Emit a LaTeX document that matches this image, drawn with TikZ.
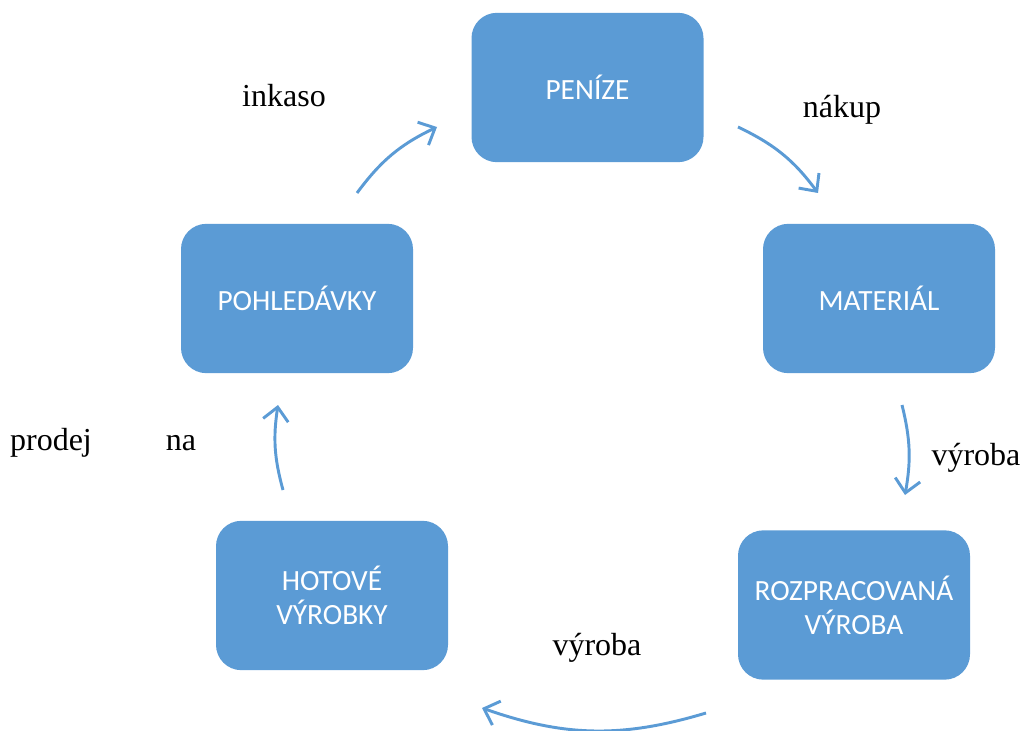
\documentclass[tikz,border=0pt]{standalone}
\usepackage{fontspec}
\setmainfont{Liberation Serif}
\newfontfamily\boxfont{Carlito}
\usetikzlibrary{arrows.meta}
\definecolor{boxblue}{HTML}{5B9BD5}
\begin{document}
\begin{tikzpicture}[x=0.75pt,y=-0.75pt,
  stage/.style={fill=boxblue, draw=none, rounded corners=19pt, minimum width=174pt, minimum height=112pt,
    text=white, align=center, font=\boxfont\fontsize{22}{25.5}\selectfont, inner sep=0pt},
  lbl/.style={font=\fontsize{24}{28}\selectfont, inner sep=0pt, anchor=base},
  flow/.style={draw=boxblue, line width=2.2pt, -{Straight Barb[length=10pt,width=19pt,line width=2.2pt]}, bend left=#1}
]
\useasboundingbox (0,0) rectangle (1022,731);
\node[stage] (penize) at (587.5,87.5) {PENÍZE};
\node[stage] (material) at (879,298.5) {MATERIÁL};
\node[stage] (rozprac) at (854,605) {ROZPRACOVANÁ\\VÝROBA};
\node[stage] (hotove) at (332,595.5) {HOTOVÉ\\VÝROBKY};
\node[stage] (pohled) at (297,298.5) {POHLEDÁVKY};

\node[lbl] (inkaso) at (284,107) {inkaso};
\node[lbl] (nakup) at (842,118) {nákup};
\node[lbl] (vyroba1) at (976,465) {výroba};
\node[lbl] (vyroba2) at (597,655) {výroba};
\node[lbl] (prodej) at (51,450) {prodej};
\node[lbl] (na) at (181,450) {na};

\coordinate (a1s) at (357,193); \coordinate (a1e) at (437,127);
\coordinate (a2s) at (738,127); \coordinate (a2e) at (818,193);
\coordinate (a3s) at (902,405); \coordinate (a3e) at (905,495);
\coordinate (a4s) at (706,713); \coordinate (a4e) at (482,708);
\coordinate (a5s) at (283,490); \coordinate (a5e) at (278,405);

\draw[flow=14] (a1s) to (a1e);
\draw[flow=14] (a2s) to (a2e);
\draw[flow=12] (a3s) to (a3e);
\draw[flow=18] (a4s) to (a4e);
\draw[flow=12] (a5s) to (a5e);
\end{tikzpicture}
\end{document}
